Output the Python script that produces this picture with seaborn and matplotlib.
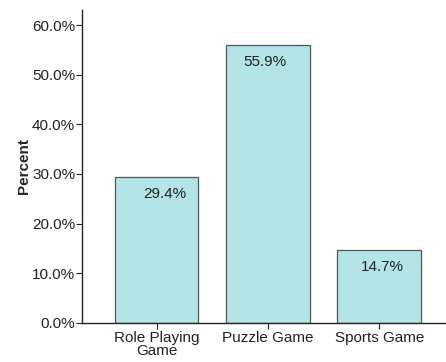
import matplotlib
matplotlib.use("Agg")
import matplotlib.pyplot as plt
import seaborn as sns
import pandas as pd
from matplotlib.ticker import FuncFormatter

categories = ["Role Playing\nGame", "Puzzle Game", "Sports Game"]
percents = [29.4, 55.9, 14.7]
labels = ["29.4%", "55.9%", "14.7%"]

# label offsets in pixels (style)
label_dx = [8, -3, 3]
label_dy = -17

sns.set_theme(style="white")
plt.rcParams['font.family'] = ['Liberation Sans', 'DejaVu Sans']

df = pd.DataFrame({"Game": categories, "Percent": percents})

fig = plt.figure(figsize=(4.46, 3.62), dpi=100)
ax = fig.add_axes([0.184, 0.108, 0.816, 0.864])
sns.barplot(data=df, x="Game", y="Percent", color="#b3e5e6", saturation=1,
            edgecolor="#555555", linewidth=0.9, width=0.75, ax=ax)

for i, (v, t) in enumerate(zip(percents, labels)):
    ax.annotate(t, (i, v), xytext=(label_dx[i], label_dy), textcoords="offset pixels",
                ha="center", va="center", fontsize=11, color="#222222")

ax.set_ylim(0, 63)
ax.set_xlim(-0.67, 2.6)
ax.set_yticks([0, 10, 20, 30, 40, 50, 60])
ax.yaxis.set_major_formatter(FuncFormatter(lambda v, p: f"{v:.1f}%"))
ax.set_xlabel("")
ax.set_ylabel("Percent", fontsize=11, fontweight="bold", labelpad=1)
for s in ["top", "right"]:
    ax.spines[s].set_visible(False)
for s in ["left", "bottom"]:
    ax.spines[s].set_color("#222222")
    ax.spines[s].set_linewidth(1.0)
ax.tick_params(axis="both", which="both", direction="out", length=4, width=0.8,
               color="#222222", labelsize=11, labelcolor="#222222", pad=1,
               bottom=True, left=True)
ax.tick_params(axis="x", pad=2)
for lab in ax.get_xticklabels():
    lab.set_linespacing(0.85)

fig.savefig("out.png", dpi=100)
